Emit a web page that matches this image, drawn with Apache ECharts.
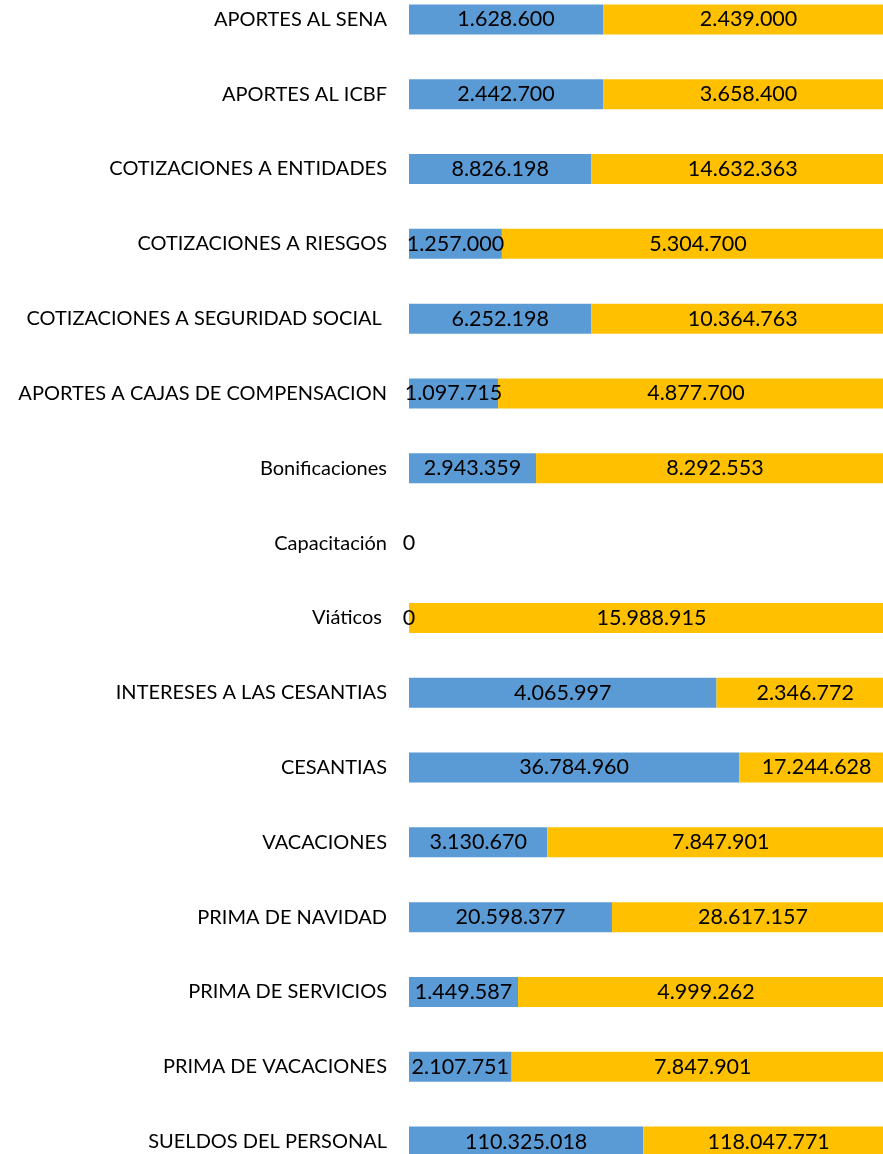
<!DOCTYPE html>
<html>
<head>
<meta charset="utf-8">
<script src="https://cdn.jsdelivr.net/npm/echarts@6/dist/echarts.min.js"></script>
<style>
  html, body { margin: 0; padding: 0; background: #fff; overflow: hidden; width: 883px; height: 1154px; }
  #chart { position: absolute; left: 0; top: -18px; width: 894px; height: 1197px; }
</style>
</head>
<body>
<div id="chart"></div>
<script>
// categorias (de arriba hacia abajo)
var categorias = [
    'APORTES AL SENA',
    'APORTES AL ICBF',
    'COTIZACIONES A ENTIDADES',
    'COTIZACIONES A RIESGOS',
    'COTIZACIONES A SEGURIDAD SOCIAL ',
    'APORTES A CAJAS DE COMPENSACION',
    'Bonificaciones',
    'Capacitación',
    'Viáticos ',
    'INTERESES A LAS CESANTIAS',
    'CESANTIAS',
    'VACACIONES',
    'PRIMA DE NAVIDAD',
    'PRIMA DE SERVICIOS',
    'PRIMA DE VACACIONES',
    'SUELDOS DEL PERSONAL'
];
// serie azul
var serieAzul = [1628600, 2442700, 8826198, 1257000, 6252198, 1097715, 2943359, 0, 0,
    4065997, 36784960, 3130670, 20598377, 1449587, 2107751, 110325018];
// serie amarilla
var serieAmarilla = [2439000, 3658400, 14632363, 5304700, 10364763, 4877700, 8292553, 0, 15988915,
    2346772, 17244628, 7847901, 28617157, 4999262, 7847901, 118047771];

function fmt(n) {
    return String(n).replace(/\B(?=(\d{3})+(?!\d))/g, '.');
}
// porcentaje de cada fila (barra apilada al 100%)
function pct(arr, i) {
    var total = serieAzul[i] + serieAmarilla[i];
    return total ? arr[i] / total * 100 : 0;
}
var azulPct = serieAzul.map(function (v, i) { return { value: pct(serieAzul, i), raw: v }; });
var amarPct = serieAmarilla.map(function (v, i) { return { value: pct(serieAmarilla, i), raw: v }; });

var chart = echarts.init(document.getElementById('chart'));
var fuente = 'Lato, "Open Sans", sans-serif';
chart.setOption({
    animation: false,
    grid: { left: 409, right: 0, top: 0, bottom: 0, containLabel: false },
    xAxis: { type: 'value', min: 0, max: 100, show: false },
    yAxis: {
        type: 'category',
        inverse: true,
        data: categorias,
        axisLine: { show: false },
        axisTick: { show: false },
        splitLine: { show: false },
        axisLabel: { color: '#000', fontSize: 20, fontFamily: fuente, margin: 22 }
    },
    series: [{
        name: 'azul',
        type: 'bar',
        stack: 'total',
        barWidth: 30,
        itemStyle: { color: '#5B9BD5' },
        label: {
            show: true, position: 'inside', color: '#000', fontSize: 21.5, fontFamily: fuente,
            formatter: function (p) { return fmt(p.data.raw); }
        },
        data: azulPct
    }, {
        name: 'amarilla',
        type: 'bar',
        stack: 'total',
        barWidth: 30,
        itemStyle: { color: '#FFC000' },
        label: {
            show: true, position: 'inside', color: '#000', fontSize: 21.5, fontFamily: fuente,
            formatter: function (p) { return p.data.raw ? fmt(p.data.raw) : ''; }
        },
        data: amarPct
    }]
});
</script>
</body>
</html>
